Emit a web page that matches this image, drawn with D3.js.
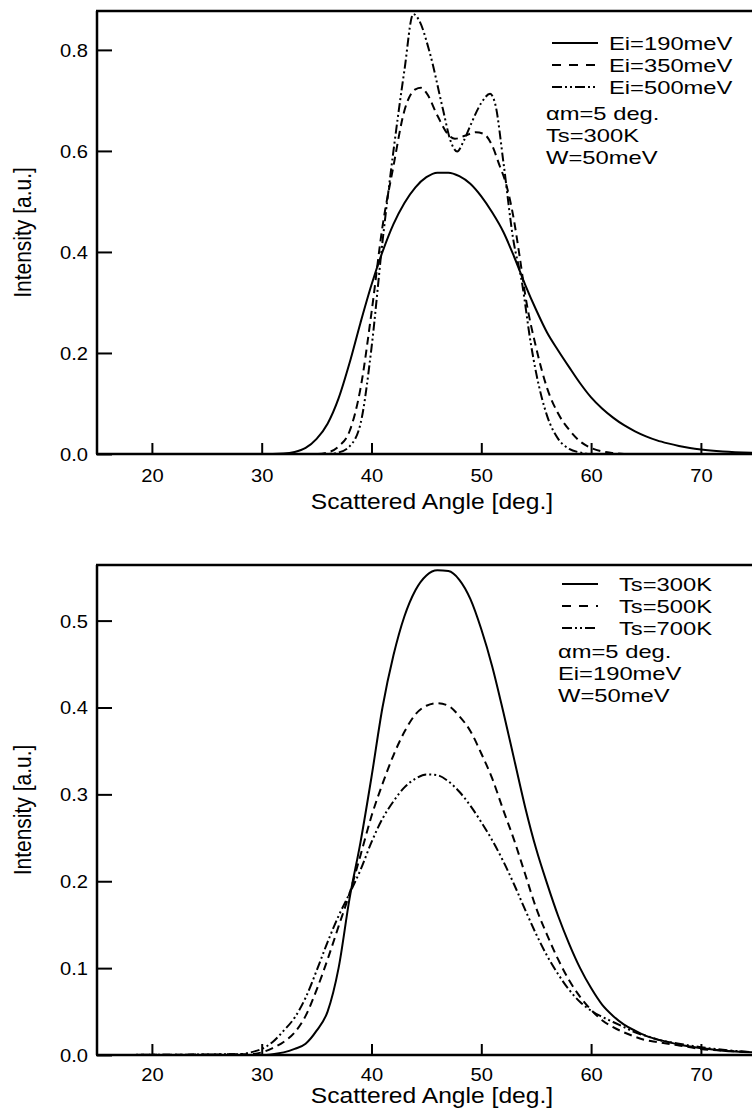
<!DOCTYPE html>
<html><head><meta charset="utf-8">
<script src="https://cdn.jsdelivr.net/npm/d3@7/dist/d3.min.js"></script>
<style>
html,body{margin:0;padding:0;background:#fff;}
svg{display:block;}
text{font-family:"Liberation Sans",Arial,Helvetica,sans-serif;fill:#000;}
</style></head>
<body>
<svg id="chart" width="752" height="1109"></svg>
<script>
// ---------- data ----------
const xTicks = [20, 30, 40, 50, 60, 70];
const yTicksTop = [0.0, 0.2, 0.4, 0.6, 0.8];
const yTicksBottom = [0.0, 0.1, 0.2, 0.3, 0.4, 0.5];

// Top panel: incident energy
const ei190_x = [15,30,32,33,34,35,36,37,38,39,40,41,42,43,44,45,46,47,48,49,50,51,52,53,54,55,56,57,58,59,60,61,62,63,64,65,66,67,68,69,70,72,75];
const ei190_y = [0,0,0.001,0.004,0.012,0.03,0.06,0.11,0.18,0.26,0.335,0.40,0.455,0.497,0.528,0.548,0.557,0.557,0.55,0.535,0.51,0.478,0.44,0.39,0.335,0.285,0.24,0.205,0.172,0.14,0.112,0.09,0.072,0.057,0.045,0.035,0.027,0.021,0.016,0.012,0.009,0.005,0.002];
const ei350_x = [15,35,36,37,38,39,40,41,42,43,44,44.5,45,46,47,47.6,48.5,49.5,50.2,51,51.6,52.3,52.9,53.5,54,55,56,57,58,59,60,61,62,63,75];
const ei350_y = [0,0,0.003,0.015,0.045,0.13,0.28,0.45,0.57,0.68,0.722,0.725,0.715,0.67,0.632,0.624,0.63,0.637,0.634,0.61,0.575,0.531,0.472,0.39,0.315,0.21,0.13,0.08,0.048,0.025,0.012,0.005,0.002,0,0];
const ei500_x = [15,36,37,38,39,40,41,42,43,43.8,44.3,45.3,46.5,47.2,47.8,48.4,49,50,50.8,51.3,52,52.9,53.7,54.5,55,56,57,58,59,60,75];
const ei500_y = [0,0,0.003,0.015,0.06,0.21,0.42,0.6,0.76,0.871,0.86,0.795,0.683,0.62,0.599,0.62,0.65,0.695,0.713,0.69,0.58,0.426,0.34,0.22,0.16,0.075,0.03,0.01,0.003,0,0];

// Bottom panel: surface temperature
const ts300_x = [15,30,31,32,33,34,35,36,37,38,39,40,41,42,43,44,45,46,47,48,49,50,51,52,53,54,55,56,57,58,59,60,61,62,63,64,65,66,67,68,70,72,75];
const ts300_y = [0,0,0.001,0.003,0.007,0.013,0.028,0.05,0.10,0.18,0.245,0.32,0.40,0.46,0.505,0.535,0.552,0.558,0.557,0.547,0.525,0.49,0.447,0.395,0.34,0.285,0.237,0.197,0.16,0.128,0.1,0.077,0.058,0.045,0.035,0.028,0.022,0.018,0.015,0.012,0.008,0.005,0.003];
const ts500_x = [15,29,30,31,32,33,34,35,36,37,38,39,40,41,42,43,44,45,46,47,48,49,50,51,52,53,54,55,56,57,58,59,60,61,62,63,64,65,66,68,70,72,75];
const ts500_y = [0,0.001,0.003,0.008,0.015,0.026,0.045,0.075,0.11,0.148,0.186,0.23,0.275,0.312,0.345,0.372,0.392,0.402,0.405,0.402,0.39,0.373,0.347,0.318,0.282,0.247,0.208,0.169,0.138,0.11,0.086,0.067,0.052,0.04,0.032,0.026,0.021,0.017,0.015,0.011,0.007,0.005,0.003];
const ts700_x = [15,28,29,30,31,32,33,34,35,36,37,38,39,40,41,42,43,44,45,46,47,48,49,50,51,52,53,54,55,56,57,58,59,60,61,62,63,64,65,66,68,70,72,75];
const ts700_y = [0,0.001,0.003,0.007,0.015,0.028,0.043,0.066,0.097,0.13,0.16,0.186,0.213,0.245,0.272,0.292,0.308,0.318,0.323,0.322,0.315,0.303,0.287,0.268,0.247,0.223,0.196,0.167,0.139,0.114,0.093,0.075,0.061,0.051,0.044,0.038,0.032,0.026,0.022,0.018,0.013,0.009,0.006,0.003];

const seriesTop = [
  {label: "Ei=190meV", x: ei190_x, y: ei190_y, style: "solid"},
  {label: "Ei=350meV", x: ei350_x, y: ei350_y, style: "dash"},
  {label: "Ei=500meV", x: ei500_x, y: ei500_y, style: "dashdot"}
];
const seriesBottom = [
  {label: "Ts=300K", x: ts300_x, y: ts300_y, style: "solid"},
  {label: "Ts=500K", x: ts500_x, y: ts500_y, style: "dash"},
  {label: "Ts=700K", x: ts700_x, y: ts700_y, style: "dashdot"}
];
const notesTop = ["\u03b1m=5 deg.", "Ts=300K", "W=50meV"];
const notesBottom = ["\u03b1m=5 deg.", "Ei=190meV", "W=50meV"];

// ---------- drawing ----------
const SX = 1.12;   // glyphs in the figure are a little wider than tall
const SXL = 1.25;  // legend text stretch
const svg = d3.select("#chart");
const dashes = {solid: null, dash: "8,5", dashdot: "9,3,2,3,2,3"};
const legendDash = {solid: null, dash: "9,8", dashdot: "10,3,2,3,2,3"};

function wideText(parent, x, y, str, size, anchor, sx) {
  return parent.append("g").attr("transform", `translate(${x},${y})`)
    .append("text").attr("transform", `scale(${sx || SX},1)`)
    .attr("text-anchor", anchor || "start").style("font-size", size + "px").text(str);
}

function panel(opt) {
  const g = svg.append("g");
  const x = d3.scaleLinear().domain([15, 75]).range([opt.left, opt.left + 60 * 10.98]);
  const y = d3.scaleLinear().domain([0, opt.ymax]).range([opt.bottom, opt.top]);

  const clipId = "clip" + opt.id;
  svg.append("clipPath").attr("id", clipId).append("rect")
    .attr("x", opt.left).attr("y", opt.top - 2).attr("width", 760 - opt.left).attr("height", opt.bottom - opt.top + 2);

  const line = d3.line().x(d => x(d[0])).y(d => y(d[1])).curve(d3.curveMonotoneX);
  opt.series.forEach(s => {
    const pts = s.x.map((v, i) => [v, s.y[i]]);
    g.append("path").attr("d", line(pts))
      .attr("fill", "none").attr("stroke", "#000").attr("stroke-width", 2)
      .attr("stroke-dasharray", dashes[s.style])
      .attr("clip-path", `url(#${clipId})`);
  });

  // axes
  const xAxis = d3.axisBottom(x).tickValues(opt.xTicks).tickSize(-11).tickPadding(0).tickFormat(d3.format("d"));
  const gx = g.append("g").attr("transform", `translate(0,${opt.bottom})`).call(xAxis);
  const yAxis = d3.axisLeft(y).tickValues(opt.yTicks).tickSize(-15).tickPadding(0).tickFormat(d3.format(".1f"));
  const gy = g.append("g").attr("transform", `translate(${opt.left},0)`).call(yAxis);
  [gx, gy].forEach(a => {
    a.select(".domain").remove();
    a.selectAll(".tick line").attr("stroke", "#000").attr("stroke-width", 2);
    a.selectAll(".tick text").style("font-size", "18px").attr("fill", "#000")
      .attr("transform", `scale(${SX},1)`);
  });
  gx.selectAll(".tick text").attr("x", 0).attr("y", opt.labelOff).attr("dy", null);
  gy.selectAll(".tick text").attr("x", -9 / SX).attr("dy", "0.36em");

  // frame: left, bottom, top
  g.append("line").attr("x1", opt.left).attr("x2", opt.left).attr("y1", opt.top).attr("y2", opt.bottom)
    .attr("stroke", "#000").attr("stroke-width", 2.5);
  g.append("line").attr("x1", opt.left - 1).attr("x2", 752).attr("y1", opt.bottom).attr("y2", opt.bottom)
    .attr("stroke", "#000").attr("stroke-width", 2.5);
  g.append("line").attr("x1", opt.left - 1).attr("x2", 752).attr("y1", opt.top).attr("y2", opt.top)
    .attr("stroke", "#000").attr("stroke-width", 2.5);

  // axis titles
  wideText(g, 432, opt.bottom + opt.titleOff, "Scattered Angle [deg.]", 22, "middle");
  g.append("g").attr("transform", `translate(31,${(opt.top + opt.bottom) / 2})`)
    .append("text").attr("transform", `scale(${SX},1) rotate(-90)`)
    .attr("text-anchor", "middle").style("font-size", "21px").text("Intensity [a.u.]");

  // legend
  opt.series.forEach((s, i) => {
    const ly = opt.legY[i];
    g.append("line").attr("x1", opt.legX1).attr("x2", opt.legX2).attr("y1", ly).attr("y2", ly)
      .attr("stroke", "#000").attr("stroke-width", 2).attr("stroke-dasharray", legendDash[s.style]);
    wideText(g, opt.legTextX, ly + 7, s.label, 19, "start", SXL);
  });
  opt.notes.forEach((t, i) => {
    wideText(g, opt.noteX, opt.noteY[i] + 7, t, 19, "start", SXL);
  });
}

panel({id: 1, left: 97, top: 11, bottom: 454, ymax: 0.877, series: seriesTop, xTicks, yTicks: yTicksTop,
  labelOff: 28, titleOff: 55,
  legX1: 552, legX2: 598, legTextX: 609, legY: [43, 65, 87], notes: notesTop, noteX: 546, noteY: [113, 135, 157]});
panel({id: 2, left: 97, top: 565, bottom: 1055, ymax: 0.564, series: seriesBottom, xTicks, yTicks: yTicksBottom,
  labelOff: 26, titleOff: 48,
  legX1: 562, legX2: 598, legTextX: 619, legY: [584, 606, 628], notes: notesBottom, noteX: 558, noteY: [651, 673, 695]});
</script>
</body></html>
